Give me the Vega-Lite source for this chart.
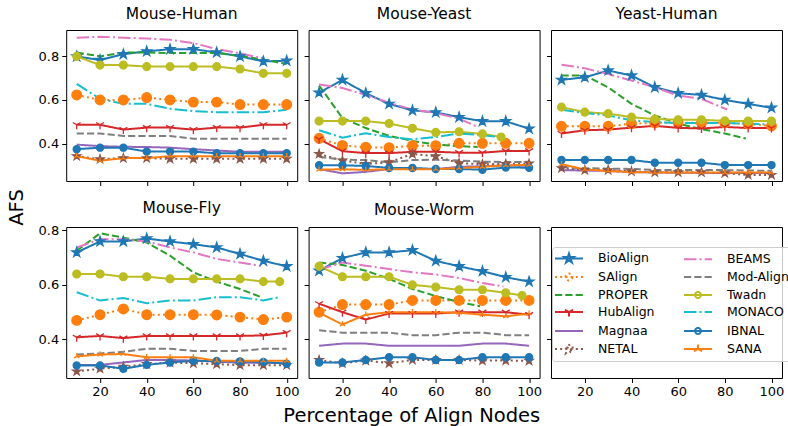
{
"$schema": "https://vega.github.io/schema/vega-lite/v6.json",
"background": "white",
"padding": {"left": 6.2, "top": 6, "right": 0, "bottom": 0},
"config": {
  "font": "DejaVu Sans",
  "view": {"stroke": "#000", "strokeWidth": 1},
  "axis": {"domain": false, "grid": false, "ticks": true, "tickSize": 4.5, "tickColor": "#000", "tickWidth": 1, "labelColor": "#000", "labelFontSize": 13, "labelPadding": 3, "titleFontSize": 19.5, "titleFontWeight": "normal", "titleColor": "#000"},
  "title": {"fontSize": 15.5, "fontWeight": "normal", "color": "#000", "offset": 8, "baseline": "alphabetic", "frame": "group"}
},
"data": {"values": [
{"p":"MH","a":"BioAlign","x":10,"y":0.80},{"p":"MH","a":"BioAlign","x":20,"y":0.783},{"p":"MH","a":"BioAlign","x":30,"y":0.81},{"p":"MH","a":"BioAlign","x":40,"y":0.823},{"p":"MH","a":"BioAlign","x":50,"y":0.833},{"p":"MH","a":"BioAlign","x":60,"y":0.833},{"p":"MH","a":"BioAlign","x":70,"y":0.818},{"p":"MH","a":"BioAlign","x":80,"y":0.80},{"p":"MH","a":"BioAlign","x":90,"y":0.777},{"p":"MH","a":"BioAlign","x":100,"y":0.78},
{"p":"MH","a":"SAlign","x":10,"y":0.623},{"p":"MH","a":"SAlign","x":20,"y":0.60},{"p":"MH","a":"SAlign","x":30,"y":0.60},{"p":"MH","a":"SAlign","x":40,"y":0.611},{"p":"MH","a":"SAlign","x":50,"y":0.60},{"p":"MH","a":"SAlign","x":60,"y":0.59},{"p":"MH","a":"SAlign","x":70,"y":0.59},{"p":"MH","a":"SAlign","x":80,"y":0.579},{"p":"MH","a":"SAlign","x":90,"y":0.579},{"p":"MH","a":"SAlign","x":100,"y":0.579},
{"p":"MH","a":"PROPER","x":10,"y":0.818},{"p":"MH","a":"PROPER","x":20,"y":0.80},{"p":"MH","a":"PROPER","x":30,"y":0.818},{"p":"MH","a":"PROPER","x":40,"y":0.818},{"p":"MH","a":"PROPER","x":50,"y":0.815},{"p":"MH","a":"PROPER","x":60,"y":0.815},{"p":"MH","a":"PROPER","x":70,"y":0.815},{"p":"MH","a":"PROPER","x":80,"y":0.803},{"p":"MH","a":"PROPER","x":90,"y":0.785},{"p":"MH","a":"PROPER","x":100,"y":0.765},
{"p":"MH","a":"HubAlign","x":10,"y":0.486},{"p":"MH","a":"HubAlign","x":20,"y":0.486},{"p":"MH","a":"HubAlign","x":30,"y":0.464},{"p":"MH","a":"HubAlign","x":40,"y":0.473},{"p":"MH","a":"HubAlign","x":50,"y":0.473},{"p":"MH","a":"HubAlign","x":60,"y":0.464},{"p":"MH","a":"HubAlign","x":70,"y":0.473},{"p":"MH","a":"HubAlign","x":80,"y":0.473},{"p":"MH","a":"HubAlign","x":90,"y":0.486},{"p":"MH","a":"HubAlign","x":100,"y":0.486},
{"p":"MH","a":"Magnaa","x":10,"y":0.395},{"p":"MH","a":"Magnaa","x":20,"y":0.388},{"p":"MH","a":"Magnaa","x":30,"y":0.385},{"p":"MH","a":"Magnaa","x":40,"y":0.384},{"p":"MH","a":"Magnaa","x":50,"y":0.381},{"p":"MH","a":"Magnaa","x":60,"y":0.374},{"p":"MH","a":"Magnaa","x":70,"y":0.368},{"p":"MH","a":"Magnaa","x":80,"y":0.362},{"p":"MH","a":"Magnaa","x":90,"y":0.362},{"p":"MH","a":"Magnaa","x":100,"y":0.362},
{"p":"MH","a":"NETAL","x":10,"y":0.342},{"p":"MH","a":"NETAL","x":20,"y":0.328},{"p":"MH","a":"NETAL","x":30,"y":0.333},{"p":"MH","a":"NETAL","x":40,"y":0.333},{"p":"MH","a":"NETAL","x":50,"y":0.33},{"p":"MH","a":"NETAL","x":60,"y":0.33},{"p":"MH","a":"NETAL","x":70,"y":0.33},{"p":"MH","a":"NETAL","x":80,"y":0.33},{"p":"MH","a":"NETAL","x":90,"y":0.33},{"p":"MH","a":"NETAL","x":100,"y":0.33},
{"p":"MH","a":"BEAMS","x":10,"y":0.885},{"p":"MH","a":"BEAMS","x":20,"y":0.89},{"p":"MH","a":"BEAMS","x":30,"y":0.886},{"p":"MH","a":"BEAMS","x":40,"y":0.882},{"p":"MH","a":"BEAMS","x":50,"y":0.876},{"p":"MH","a":"BEAMS","x":60,"y":0.861},{"p":"MH","a":"BEAMS","x":70,"y":0.833},{"p":"MH","a":"BEAMS","x":80,"y":0.814},{"p":"MH","a":"BEAMS","x":90,"y":0.79},
{"p":"MH","a":"Mod-Align","x":10,"y":0.446},{"p":"MH","a":"Mod-Align","x":20,"y":0.446},{"p":"MH","a":"Mod-Align","x":30,"y":0.435},{"p":"MH","a":"Mod-Align","x":40,"y":0.435},{"p":"MH","a":"Mod-Align","x":50,"y":0.435},{"p":"MH","a":"Mod-Align","x":60,"y":0.422},{"p":"MH","a":"Mod-Align","x":70,"y":0.422},{"p":"MH","a":"Mod-Align","x":80,"y":0.422},{"p":"MH","a":"Mod-Align","x":90,"y":0.422},{"p":"MH","a":"Mod-Align","x":100,"y":0.422},
{"p":"MH","a":"Twadn","x":10,"y":0.80},{"p":"MH","a":"Twadn","x":20,"y":0.76},{"p":"MH","a":"Twadn","x":30,"y":0.76},{"p":"MH","a":"Twadn","x":40,"y":0.753},{"p":"MH","a":"Twadn","x":50,"y":0.753},{"p":"MH","a":"Twadn","x":60,"y":0.753},{"p":"MH","a":"Twadn","x":70,"y":0.753},{"p":"MH","a":"Twadn","x":80,"y":0.742},{"p":"MH","a":"Twadn","x":90,"y":0.722},{"p":"MH","a":"Twadn","x":100,"y":0.722},
{"p":"MH","a":"MONACO","x":10,"y":0.674},{"p":"MH","a":"MONACO","x":20,"y":0.605},{"p":"MH","a":"MONACO","x":30,"y":0.582},{"p":"MH","a":"MONACO","x":40,"y":0.582},{"p":"MH","a":"MONACO","x":50,"y":0.56},{"p":"MH","a":"MONACO","x":60,"y":0.549},{"p":"MH","a":"MONACO","x":70,"y":0.544},{"p":"MH","a":"MONACO","x":80,"y":0.544},{"p":"MH","a":"MONACO","x":90,"y":0.544},{"p":"MH","a":"MONACO","x":100,"y":0.555},
{"p":"MH","a":"IBNAL","x":10,"y":0.374},{"p":"MH","a":"IBNAL","x":20,"y":0.381},{"p":"MH","a":"IBNAL","x":30,"y":0.381},{"p":"MH","a":"IBNAL","x":40,"y":0.363},{"p":"MH","a":"IBNAL","x":50,"y":0.363},{"p":"MH","a":"IBNAL","x":60,"y":0.363},{"p":"MH","a":"IBNAL","x":70,"y":0.355},{"p":"MH","a":"IBNAL","x":80,"y":0.355},{"p":"MH","a":"IBNAL","x":90,"y":0.355},{"p":"MH","a":"IBNAL","x":100,"y":0.355},
{"p":"MH","a":"SANA","x":10,"y":0.342},{"p":"MH","a":"SANA","x":20,"y":0.321},{"p":"MH","a":"SANA","x":30,"y":0.333},{"p":"MH","a":"SANA","x":40,"y":0.333},{"p":"MH","a":"SANA","x":50,"y":0.342},{"p":"MH","a":"SANA","x":60,"y":0.342},{"p":"MH","a":"SANA","x":70,"y":0.342},{"p":"MH","a":"SANA","x":80,"y":0.342},{"p":"MH","a":"SANA","x":90,"y":0.342},{"p":"MH","a":"SANA","x":100,"y":0.342},

{"p":"MY","a":"BioAlign","x":10,"y":0.633},{"p":"MY","a":"BioAlign","x":20,"y":0.692},{"p":"MY","a":"BioAlign","x":30,"y":0.631},{"p":"MY","a":"BioAlign","x":40,"y":0.582},{"p":"MY","a":"BioAlign","x":50,"y":0.552},{"p":"MY","a":"BioAlign","x":60,"y":0.543},{"p":"MY","a":"BioAlign","x":70,"y":0.521},{"p":"MY","a":"BioAlign","x":80,"y":0.502},{"p":"MY","a":"BioAlign","x":90,"y":0.502},{"p":"MY","a":"BioAlign","x":100,"y":0.468},
{"p":"MY","a":"SAlign","x":10,"y":0.424},{"p":"MY","a":"SAlign","x":20,"y":0.391},{"p":"MY","a":"SAlign","x":30,"y":0.383},{"p":"MY","a":"SAlign","x":40,"y":0.381},{"p":"MY","a":"SAlign","x":50,"y":0.39},{"p":"MY","a":"SAlign","x":60,"y":0.39},{"p":"MY","a":"SAlign","x":70,"y":0.401},{"p":"MY","a":"SAlign","x":80,"y":0.401},{"p":"MY","a":"SAlign","x":90,"y":0.401},{"p":"MY","a":"SAlign","x":100,"y":0.401},
{"p":"MY","a":"PROPER","x":10,"y":0.666},{"p":"MY","a":"PROPER","x":20,"y":0.517},{"p":"MY","a":"PROPER","x":30,"y":0.471},{"p":"MY","a":"PROPER","x":40,"y":0.435},{"p":"MY","a":"PROPER","x":50,"y":0.412},{"p":"MY","a":"PROPER","x":60,"y":0.395},{"p":"MY","a":"PROPER","x":70,"y":0.388},{"p":"MY","a":"PROPER","x":78,"y":0.384},
{"p":"MY","a":"HubAlign","x":10,"y":0.42},{"p":"MY","a":"HubAlign","x":20,"y":0.365},{"p":"MY","a":"HubAlign","x":30,"y":0.356},{"p":"MY","a":"HubAlign","x":40,"y":0.356},{"p":"MY","a":"HubAlign","x":50,"y":0.362},{"p":"MY","a":"HubAlign","x":60,"y":0.362},{"p":"MY","a":"HubAlign","x":70,"y":0.358},{"p":"MY","a":"HubAlign","x":80,"y":0.358},{"p":"MY","a":"HubAlign","x":90,"y":0.366},{"p":"MY","a":"HubAlign","x":100,"y":0.366},
{"p":"MY","a":"Magnaa","x":10,"y":0.283},{"p":"MY","a":"Magnaa","x":20,"y":0.263},{"p":"MY","a":"Magnaa","x":30,"y":0.27},{"p":"MY","a":"Magnaa","x":40,"y":0.283},{"p":"MY","a":"Magnaa","x":50,"y":0.283},{"p":"MY","a":"Magnaa","x":60,"y":0.283},{"p":"MY","a":"Magnaa","x":70,"y":0.293},{"p":"MY","a":"Magnaa","x":80,"y":0.296},{"p":"MY","a":"Magnaa","x":90,"y":0.30},{"p":"MY","a":"Magnaa","x":100,"y":0.297},
{"p":"MY","a":"NETAL","x":10,"y":0.352},{"p":"MY","a":"NETAL","x":20,"y":0.322},{"p":"MY","a":"NETAL","x":30,"y":0.306},{"p":"MY","a":"NETAL","x":40,"y":0.314},{"p":"MY","a":"NETAL","x":50,"y":0.352},{"p":"MY","a":"NETAL","x":60,"y":0.342},{"p":"MY","a":"NETAL","x":70,"y":0.31},{"p":"MY","a":"NETAL","x":80,"y":0.305},{"p":"MY","a":"NETAL","x":90,"y":0.306},{"p":"MY","a":"NETAL","x":100,"y":0.308},
{"p":"MY","a":"BEAMS","x":10,"y":0.671},{"p":"MY","a":"BEAMS","x":20,"y":0.655},{"p":"MY","a":"BEAMS","x":30,"y":0.623},{"p":"MY","a":"BEAMS","x":40,"y":0.587},{"p":"MY","a":"BEAMS","x":50,"y":0.556},{"p":"MY","a":"BEAMS","x":60,"y":0.54},{"p":"MY","a":"BEAMS","x":70,"y":0.514},{"p":"MY","a":"BEAMS","x":78,"y":0.476},
{"p":"MY","a":"Mod-Align","x":10,"y":0.339},{"p":"MY","a":"Mod-Align","x":20,"y":0.326},{"p":"MY","a":"Mod-Align","x":30,"y":0.324},{"p":"MY","a":"Mod-Align","x":40,"y":0.314},{"p":"MY","a":"Mod-Align","x":50,"y":0.324},{"p":"MY","a":"Mod-Align","x":60,"y":0.326},{"p":"MY","a":"Mod-Align","x":70,"y":0.322},{"p":"MY","a":"Mod-Align","x":80,"y":0.317},{"p":"MY","a":"Mod-Align","x":90,"y":0.315},{"p":"MY","a":"Mod-Align","x":100,"y":0.316},
{"p":"MY","a":"Twadn","x":10,"y":0.503},{"p":"MY","a":"Twadn","x":20,"y":0.503},{"p":"MY","a":"Twadn","x":30,"y":0.503},{"p":"MY","a":"Twadn","x":40,"y":0.492},{"p":"MY","a":"Twadn","x":50,"y":0.47},{"p":"MY","a":"Twadn","x":60,"y":0.451},{"p":"MY","a":"Twadn","x":70,"y":0.454},{"p":"MY","a":"Twadn","x":80,"y":0.444},{"p":"MY","a":"Twadn","x":88,"y":0.43},
{"p":"MY","a":"MONACO","x":10,"y":0.461},{"p":"MY","a":"MONACO","x":20,"y":0.427},{"p":"MY","a":"MONACO","x":30,"y":0.447},{"p":"MY","a":"MONACO","x":40,"y":0.43},{"p":"MY","a":"MONACO","x":50,"y":0.419},{"p":"MY","a":"MONACO","x":60,"y":0.43},{"p":"MY","a":"MONACO","x":70,"y":0.446},{"p":"MY","a":"MONACO","x":80,"y":0.438},{"p":"MY","a":"MONACO","x":88,"y":0.43},
{"p":"MY","a":"IBNAL","x":10,"y":0.30},{"p":"MY","a":"IBNAL","x":20,"y":0.30},{"p":"MY","a":"IBNAL","x":30,"y":0.297},{"p":"MY","a":"IBNAL","x":40,"y":0.288},{"p":"MY","a":"IBNAL","x":50,"y":0.288},{"p":"MY","a":"IBNAL","x":60,"y":0.283},{"p":"MY","a":"IBNAL","x":70,"y":0.283},{"p":"MY","a":"IBNAL","x":80,"y":0.28},{"p":"MY","a":"IBNAL","x":90,"y":0.29},{"p":"MY","a":"IBNAL","x":100,"y":0.289},
{"p":"MY","a":"SANA","x":10,"y":0.28},{"p":"MY","a":"SANA","x":20,"y":0.282},{"p":"MY","a":"SANA","x":30,"y":0.279},{"p":"MY","a":"SANA","x":40,"y":0.282},{"p":"MY","a":"SANA","x":50,"y":0.282},{"p":"MY","a":"SANA","x":60,"y":0.282},{"p":"MY","a":"SANA","x":70,"y":0.287},{"p":"MY","a":"SANA","x":80,"y":0.293},{"p":"MY","a":"SANA","x":90,"y":0.30},{"p":"MY","a":"SANA","x":100,"y":0.302},

{"p":"YH","a":"BioAlign","x":10,"y":0.692},{"p":"YH","a":"BioAlign","x":20,"y":0.704},{"p":"YH","a":"BioAlign","x":30,"y":0.735},{"p":"YH","a":"BioAlign","x":40,"y":0.712},{"p":"YH","a":"BioAlign","x":50,"y":0.658},{"p":"YH","a":"BioAlign","x":60,"y":0.631},{"p":"YH","a":"BioAlign","x":70,"y":0.623},{"p":"YH","a":"BioAlign","x":80,"y":0.60},{"p":"YH","a":"BioAlign","x":90,"y":0.582},{"p":"YH","a":"BioAlign","x":100,"y":0.564},
{"p":"YH","a":"SAlign","x":10,"y":0.479},{"p":"YH","a":"SAlign","x":20,"y":0.479},{"p":"YH","a":"SAlign","x":30,"y":0.479},{"p":"YH","a":"SAlign","x":40,"y":0.491},{"p":"YH","a":"SAlign","x":50,"y":0.495},{"p":"YH","a":"SAlign","x":60,"y":0.496},{"p":"YH","a":"SAlign","x":70,"y":0.495},{"p":"YH","a":"SAlign","x":80,"y":0.495},{"p":"YH","a":"SAlign","x":90,"y":0.49},{"p":"YH","a":"SAlign","x":100,"y":0.481},
{"p":"YH","a":"PROPER","x":10,"y":0.712},{"p":"YH","a":"PROPER","x":20,"y":0.712},{"p":"YH","a":"PROPER","x":30,"y":0.658},{"p":"YH","a":"PROPER","x":40,"y":0.582},{"p":"YH","a":"PROPER","x":50,"y":0.529},{"p":"YH","a":"PROPER","x":60,"y":0.491},{"p":"YH","a":"PROPER","x":70,"y":0.466},{"p":"YH","a":"PROPER","x":80,"y":0.446},{"p":"YH","a":"PROPER","x":89,"y":0.423},
{"p":"YH","a":"HubAlign","x":10,"y":0.446},{"p":"YH","a":"HubAlign","x":20,"y":0.461},{"p":"YH","a":"HubAlign","x":30,"y":0.464},{"p":"YH","a":"HubAlign","x":40,"y":0.473},{"p":"YH","a":"HubAlign","x":50,"y":0.481},{"p":"YH","a":"HubAlign","x":60,"y":0.472},{"p":"YH","a":"HubAlign","x":70,"y":0.469},{"p":"YH","a":"HubAlign","x":80,"y":0.476},{"p":"YH","a":"HubAlign","x":90,"y":0.471},{"p":"YH","a":"HubAlign","x":100,"y":0.471},
{"p":"YH","a":"Magnaa","x":10,"y":0.278},{"p":"YH","a":"Magnaa","x":20,"y":0.276},{"p":"YH","a":"Magnaa","x":30,"y":0.274},{"p":"YH","a":"Magnaa","x":40,"y":0.269},{"p":"YH","a":"Magnaa","x":50,"y":0.267},{"p":"YH","a":"Magnaa","x":60,"y":0.266},{"p":"YH","a":"Magnaa","x":70,"y":0.265},{"p":"YH","a":"Magnaa","x":80,"y":0.265},{"p":"YH","a":"Magnaa","x":90,"y":0.265},{"p":"YH","a":"Magnaa","x":100,"y":0.265},
{"p":"YH","a":"NETAL","x":10,"y":0.287},{"p":"YH","a":"NETAL","x":20,"y":0.278},{"p":"YH","a":"NETAL","x":30,"y":0.278},{"p":"YH","a":"NETAL","x":40,"y":0.272},{"p":"YH","a":"NETAL","x":50,"y":0.268},{"p":"YH","a":"NETAL","x":60,"y":0.268},{"p":"YH","a":"NETAL","x":70,"y":0.268},{"p":"YH","a":"NETAL","x":80,"y":0.264},{"p":"YH","a":"NETAL","x":90,"y":0.256},{"p":"YH","a":"NETAL","x":100,"y":0.256},
{"p":"YH","a":"BEAMS","x":10,"y":0.762},{"p":"YH","a":"BEAMS","x":20,"y":0.745},{"p":"YH","a":"BEAMS","x":30,"y":0.719},{"p":"YH","a":"BEAMS","x":40,"y":0.689},{"p":"YH","a":"BEAMS","x":50,"y":0.658},{"p":"YH","a":"BEAMS","x":60,"y":0.62},{"p":"YH","a":"BEAMS","x":70,"y":0.605},{"p":"YH","a":"BEAMS","x":81,"y":0.556},
{"p":"YH","a":"Mod-Align","x":10,"y":0.291},{"p":"YH","a":"Mod-Align","x":20,"y":0.287},{"p":"YH","a":"Mod-Align","x":30,"y":0.285},{"p":"YH","a":"Mod-Align","x":40,"y":0.283},{"p":"YH","a":"Mod-Align","x":50,"y":0.279},{"p":"YH","a":"Mod-Align","x":60,"y":0.279},{"p":"YH","a":"Mod-Align","x":70,"y":0.279},{"p":"YH","a":"Mod-Align","x":80,"y":0.278},{"p":"YH","a":"Mod-Align","x":90,"y":0.276},{"p":"YH","a":"Mod-Align","x":100,"y":0.275},
{"p":"YH","a":"Twadn","x":10,"y":0.567},{"p":"YH","a":"Twadn","x":20,"y":0.544},{"p":"YH","a":"Twadn","x":30,"y":0.537},{"p":"YH","a":"Twadn","x":40,"y":0.521},{"p":"YH","a":"Twadn","x":50,"y":0.512},{"p":"YH","a":"Twadn","x":60,"y":0.509},{"p":"YH","a":"Twadn","x":70,"y":0.509},{"p":"YH","a":"Twadn","x":80,"y":0.504},{"p":"YH","a":"Twadn","x":90,"y":0.503},{"p":"YH","a":"Twadn","x":100,"y":0.503},
{"p":"YH","a":"MONACO","x":10,"y":0.555},{"p":"YH","a":"MONACO","x":20,"y":0.54},{"p":"YH","a":"MONACO","x":30,"y":0.529},{"p":"YH","a":"MONACO","x":40,"y":0.506},{"p":"YH","a":"MONACO","x":50,"y":0.499},{"p":"YH","a":"MONACO","x":60,"y":0.494},{"p":"YH","a":"MONACO","x":70,"y":0.494},{"p":"YH","a":"MONACO","x":80,"y":0.494},{"p":"YH","a":"MONACO","x":90,"y":0.491},{"p":"YH","a":"MONACO","x":100,"y":0.487},
{"p":"YH","a":"IBNAL","x":10,"y":0.324},{"p":"YH","a":"IBNAL","x":20,"y":0.324},{"p":"YH","a":"IBNAL","x":30,"y":0.324},{"p":"YH","a":"IBNAL","x":40,"y":0.324},{"p":"YH","a":"IBNAL","x":50,"y":0.312},{"p":"YH","a":"IBNAL","x":60,"y":0.312},{"p":"YH","a":"IBNAL","x":70,"y":0.312},{"p":"YH","a":"IBNAL","x":80,"y":0.301},{"p":"YH","a":"IBNAL","x":90,"y":0.301},{"p":"YH","a":"IBNAL","x":100,"y":0.301},
{"p":"YH","a":"SANA","x":10,"y":0.305},{"p":"YH","a":"SANA","x":20,"y":0.281},{"p":"YH","a":"SANA","x":30,"y":0.274},{"p":"YH","a":"SANA","x":40,"y":0.269},{"p":"YH","a":"SANA","x":50,"y":0.267},{"p":"YH","a":"SANA","x":60,"y":0.267},{"p":"YH","a":"SANA","x":70,"y":0.267},{"p":"YH","a":"SANA","x":80,"y":0.267},{"p":"YH","a":"SANA","x":90,"y":0.267},{"p":"YH","a":"SANA","x":100,"y":0.267},

{"p":"MF","a":"BioAlign","x":10,"y":0.719},{"p":"MF","a":"BioAlign","x":20,"y":0.759},{"p":"MF","a":"BioAlign","x":30,"y":0.759},{"p":"MF","a":"BioAlign","x":40,"y":0.77},{"p":"MF","a":"BioAlign","x":50,"y":0.759},{"p":"MF","a":"BioAlign","x":60,"y":0.749},{"p":"MF","a":"BioAlign","x":70,"y":0.737},{"p":"MF","a":"BioAlign","x":80,"y":0.713},{"p":"MF","a":"BioAlign","x":90,"y":0.688},{"p":"MF","a":"BioAlign","x":100,"y":0.668},
{"p":"MF","a":"SAlign","x":10,"y":0.47},{"p":"MF","a":"SAlign","x":20,"y":0.491},{"p":"MF","a":"SAlign","x":30,"y":0.512},{"p":"MF","a":"SAlign","x":40,"y":0.491},{"p":"MF","a":"SAlign","x":50,"y":0.491},{"p":"MF","a":"SAlign","x":60,"y":0.491},{"p":"MF","a":"SAlign","x":70,"y":0.49},{"p":"MF","a":"SAlign","x":80,"y":0.482},{"p":"MF","a":"SAlign","x":90,"y":0.473},{"p":"MF","a":"SAlign","x":100,"y":0.482},
{"p":"MF","a":"PROPER","x":10,"y":0.725},{"p":"MF","a":"PROPER","x":20,"y":0.789},{"p":"MF","a":"PROPER","x":30,"y":0.773},{"p":"MF","a":"PROPER","x":40,"y":0.755},{"p":"MF","a":"PROPER","x":50,"y":0.707},{"p":"MF","a":"PROPER","x":60,"y":0.646},{"p":"MF","a":"PROPER","x":70,"y":0.612},{"p":"MF","a":"PROPER","x":80,"y":0.585},{"p":"MF","a":"PROPER","x":89,"y":0.555},
{"p":"MF","a":"HubAlign","x":10,"y":0.408},{"p":"MF","a":"HubAlign","x":20,"y":0.413},{"p":"MF","a":"HubAlign","x":30,"y":0.405},{"p":"MF","a":"HubAlign","x":40,"y":0.413},{"p":"MF","a":"HubAlign","x":50,"y":0.413},{"p":"MF","a":"HubAlign","x":60,"y":0.413},{"p":"MF","a":"HubAlign","x":70,"y":0.413},{"p":"MF","a":"HubAlign","x":80,"y":0.413},{"p":"MF","a":"HubAlign","x":90,"y":0.415},{"p":"MF","a":"HubAlign","x":100,"y":0.425},
{"p":"MF","a":"Magnaa","x":10,"y":0.307},{"p":"MF","a":"Magnaa","x":20,"y":0.307},{"p":"MF","a":"Magnaa","x":30,"y":0.316},{"p":"MF","a":"Magnaa","x":40,"y":0.325},{"p":"MF","a":"Magnaa","x":50,"y":0.325},{"p":"MF","a":"Magnaa","x":60,"y":0.323},{"p":"MF","a":"Magnaa","x":70,"y":0.319},{"p":"MF","a":"Magnaa","x":80,"y":0.315},{"p":"MF","a":"Magnaa","x":90,"y":0.315},{"p":"MF","a":"Magnaa","x":100,"y":0.313},
{"p":"MF","a":"NETAL","x":10,"y":0.283},{"p":"MF","a":"NETAL","x":20,"y":0.293},{"p":"MF","a":"NETAL","x":30,"y":0.30},{"p":"MF","a":"NETAL","x":40,"y":0.31},{"p":"MF","a":"NETAL","x":50,"y":0.315},{"p":"MF","a":"NETAL","x":60,"y":0.313},{"p":"MF","a":"NETAL","x":70,"y":0.31},{"p":"MF","a":"NETAL","x":80,"y":0.306},{"p":"MF","a":"NETAL","x":90,"y":0.306},{"p":"MF","a":"NETAL","x":100,"y":0.306},
{"p":"MF","a":"BEAMS","x":10,"y":0.737},{"p":"MF","a":"BEAMS","x":20,"y":0.767},{"p":"MF","a":"BEAMS","x":30,"y":0.767},{"p":"MF","a":"BEAMS","x":40,"y":0.759},{"p":"MF","a":"BEAMS","x":50,"y":0.737},{"p":"MF","a":"BEAMS","x":60,"y":0.719},{"p":"MF","a":"BEAMS","x":70,"y":0.695},{"p":"MF","a":"BEAMS","x":80,"y":0.682},{"p":"MF","a":"BEAMS","x":89,"y":0.67},
{"p":"MF","a":"Mod-Align","x":10,"y":0.345},{"p":"MF","a":"Mod-Align","x":20,"y":0.349},{"p":"MF","a":"Mod-Align","x":30,"y":0.355},{"p":"MF","a":"Mod-Align","x":40,"y":0.366},{"p":"MF","a":"Mod-Align","x":50,"y":0.366},{"p":"MF","a":"Mod-Align","x":60,"y":0.358},{"p":"MF","a":"Mod-Align","x":70,"y":0.358},{"p":"MF","a":"Mod-Align","x":80,"y":0.358},{"p":"MF","a":"Mod-Align","x":90,"y":0.366},{"p":"MF","a":"Mod-Align","x":100,"y":0.366},
{"p":"MF","a":"Twadn","x":10,"y":0.64},{"p":"MF","a":"Twadn","x":20,"y":0.64},{"p":"MF","a":"Twadn","x":30,"y":0.63},{"p":"MF","a":"Twadn","x":40,"y":0.63},{"p":"MF","a":"Twadn","x":50,"y":0.622},{"p":"MF","a":"Twadn","x":60,"y":0.622},{"p":"MF","a":"Twadn","x":70,"y":0.622},{"p":"MF","a":"Twadn","x":80,"y":0.622},{"p":"MF","a":"Twadn","x":90,"y":0.612},{"p":"MF","a":"Twadn","x":97,"y":0.612},
{"p":"MF","a":"MONACO","x":10,"y":0.573},{"p":"MF","a":"MONACO","x":20,"y":0.543},{"p":"MF","a":"MONACO","x":30,"y":0.552},{"p":"MF","a":"MONACO","x":40,"y":0.533},{"p":"MF","a":"MONACO","x":50,"y":0.543},{"p":"MF","a":"MONACO","x":60,"y":0.543},{"p":"MF","a":"MONACO","x":70,"y":0.555},{"p":"MF","a":"MONACO","x":80,"y":0.555},{"p":"MF","a":"MONACO","x":90,"y":0.543},{"p":"MF","a":"MONACO","x":97,"y":0.555},
{"p":"MF","a":"IBNAL","x":10,"y":0.305},{"p":"MF","a":"IBNAL","x":20,"y":0.305},{"p":"MF","a":"IBNAL","x":30,"y":0.293},{"p":"MF","a":"IBNAL","x":40,"y":0.307},{"p":"MF","a":"IBNAL","x":50,"y":0.316},{"p":"MF","a":"IBNAL","x":60,"y":0.322},{"p":"MF","a":"IBNAL","x":70,"y":0.321},{"p":"MF","a":"IBNAL","x":80,"y":0.32},{"p":"MF","a":"IBNAL","x":90,"y":0.318},{"p":"MF","a":"IBNAL","x":100,"y":0.311},
{"p":"MF","a":"SANA","x":10,"y":0.338},{"p":"MF","a":"SANA","x":20,"y":0.345},{"p":"MF","a":"SANA","x":30,"y":0.347},{"p":"MF","a":"SANA","x":40,"y":0.335},{"p":"MF","a":"SANA","x":50,"y":0.335},{"p":"MF","a":"SANA","x":60,"y":0.335},{"p":"MF","a":"SANA","x":70,"y":0.322},{"p":"MF","a":"SANA","x":80,"y":0.322},{"p":"MF","a":"SANA","x":90,"y":0.322},{"p":"MF","a":"SANA","x":100,"y":0.322},

{"p":"MW","a":"BioAlign","x":10,"y":0.652},{"p":"MW","a":"BioAlign","x":20,"y":0.698},{"p":"MW","a":"BioAlign","x":30,"y":0.719},{"p":"MW","a":"BioAlign","x":40,"y":0.719},{"p":"MW","a":"BioAlign","x":50,"y":0.727},{"p":"MW","a":"BioAlign","x":60,"y":0.688},{"p":"MW","a":"BioAlign","x":70,"y":0.668},{"p":"MW","a":"BioAlign","x":80,"y":0.65},{"p":"MW","a":"BioAlign","x":90,"y":0.628},{"p":"MW","a":"BioAlign","x":100,"y":0.612},
{"p":"MW","a":"SAlign","x":10,"y":0.50},{"p":"MW","a":"SAlign","x":20,"y":0.528},{"p":"MW","a":"SAlign","x":30,"y":0.528},{"p":"MW","a":"SAlign","x":40,"y":0.528},{"p":"MW","a":"SAlign","x":50,"y":0.543},{"p":"MW","a":"SAlign","x":60,"y":0.543},{"p":"MW","a":"SAlign","x":70,"y":0.543},{"p":"MW","a":"SAlign","x":80,"y":0.543},{"p":"MW","a":"SAlign","x":90,"y":0.543},{"p":"MW","a":"SAlign","x":100,"y":0.543},
{"p":"MW","a":"PROPER","x":10,"y":0.682},{"p":"MW","a":"PROPER","x":20,"y":0.673},{"p":"MW","a":"PROPER","x":30,"y":0.652},{"p":"MW","a":"PROPER","x":40,"y":0.622},{"p":"MW","a":"PROPER","x":50,"y":0.585},{"p":"MW","a":"PROPER","x":60,"y":0.559},{"p":"MW","a":"PROPER","x":70,"y":0.537},{"p":"MW","a":"PROPER","x":79,"y":0.522},
{"p":"MW","a":"HubAlign","x":10,"y":0.531},{"p":"MW","a":"HubAlign","x":20,"y":0.50},{"p":"MW","a":"HubAlign","x":30,"y":0.473},{"p":"MW","a":"HubAlign","x":40,"y":0.495},{"p":"MW","a":"HubAlign","x":50,"y":0.495},{"p":"MW","a":"HubAlign","x":60,"y":0.495},{"p":"MW","a":"HubAlign","x":70,"y":0.50},{"p":"MW","a":"HubAlign","x":80,"y":0.50},{"p":"MW","a":"HubAlign","x":90,"y":0.50},{"p":"MW","a":"HubAlign","x":100,"y":0.491},
{"p":"MW","a":"Magnaa","x":10,"y":0.377},{"p":"MW","a":"Magnaa","x":20,"y":0.385},{"p":"MW","a":"Magnaa","x":30,"y":0.385},{"p":"MW","a":"Magnaa","x":40,"y":0.377},{"p":"MW","a":"Magnaa","x":50,"y":0.377},{"p":"MW","a":"Magnaa","x":60,"y":0.377},{"p":"MW","a":"Magnaa","x":70,"y":0.377},{"p":"MW","a":"Magnaa","x":80,"y":0.385},{"p":"MW","a":"Magnaa","x":90,"y":0.385},{"p":"MW","a":"Magnaa","x":100,"y":0.377},
{"p":"MW","a":"NETAL","x":10,"y":0.325},{"p":"MW","a":"NETAL","x":20,"y":0.313},{"p":"MW","a":"NETAL","x":30,"y":0.323},{"p":"MW","a":"NETAL","x":40,"y":0.313},{"p":"MW","a":"NETAL","x":50,"y":0.325},{"p":"MW","a":"NETAL","x":60,"y":0.325},{"p":"MW","a":"NETAL","x":70,"y":0.325},{"p":"MW","a":"NETAL","x":80,"y":0.323},{"p":"MW","a":"NETAL","x":90,"y":0.323},{"p":"MW","a":"NETAL","x":100,"y":0.322},
{"p":"MW","a":"BEAMS","x":10,"y":0.656},{"p":"MW","a":"BEAMS","x":20,"y":0.682},{"p":"MW","a":"BEAMS","x":30,"y":0.67},{"p":"MW","a":"BEAMS","x":40,"y":0.658},{"p":"MW","a":"BEAMS","x":50,"y":0.646},{"p":"MW","a":"BEAMS","x":60,"y":0.638},{"p":"MW","a":"BEAMS","x":70,"y":0.625},{"p":"MW","a":"BEAMS","x":80,"y":0.607},{"p":"MW","a":"BEAMS","x":89,"y":0.594},
{"p":"MW","a":"Mod-Align","x":10,"y":0.434},{"p":"MW","a":"Mod-Align","x":20,"y":0.425},{"p":"MW","a":"Mod-Align","x":30,"y":0.425},{"p":"MW","a":"Mod-Align","x":40,"y":0.425},{"p":"MW","a":"Mod-Align","x":50,"y":0.416},{"p":"MW","a":"Mod-Align","x":60,"y":0.416},{"p":"MW","a":"Mod-Align","x":70,"y":0.425},{"p":"MW","a":"Mod-Align","x":80,"y":0.425},{"p":"MW","a":"Mod-Align","x":90,"y":0.416},{"p":"MW","a":"Mod-Align","x":100,"y":0.416},
{"p":"MW","a":"Twadn","x":10,"y":0.668},{"p":"MW","a":"Twadn","x":20,"y":0.63},{"p":"MW","a":"Twadn","x":30,"y":0.63},{"p":"MW","a":"Twadn","x":40,"y":0.63},{"p":"MW","a":"Twadn","x":50,"y":0.60},{"p":"MW","a":"Twadn","x":60,"y":0.592},{"p":"MW","a":"Twadn","x":70,"y":0.582},{"p":"MW","a":"Twadn","x":80,"y":0.582},{"p":"MW","a":"Twadn","x":90,"y":0.571},{"p":"MW","a":"Twadn","x":97,"y":0.561},
{"p":"MW","a":"IBNAL","x":10,"y":0.316},{"p":"MW","a":"IBNAL","x":20,"y":0.316},{"p":"MW","a":"IBNAL","x":30,"y":0.325},{"p":"MW","a":"IBNAL","x":40,"y":0.335},{"p":"MW","a":"IBNAL","x":50,"y":0.335},{"p":"MW","a":"IBNAL","x":60,"y":0.325},{"p":"MW","a":"IBNAL","x":70,"y":0.325},{"p":"MW","a":"IBNAL","x":80,"y":0.335},{"p":"MW","a":"IBNAL","x":90,"y":0.335},{"p":"MW","a":"IBNAL","x":100,"y":0.335},
{"p":"MW","a":"SANA","x":10,"y":0.498},{"p":"MW","a":"SANA","x":20,"y":0.455},{"p":"MW","a":"SANA","x":30,"y":0.491},{"p":"MW","a":"SANA","x":40,"y":0.50},{"p":"MW","a":"SANA","x":50,"y":0.50},{"p":"MW","a":"SANA","x":60,"y":0.50},{"p":"MW","a":"SANA","x":70,"y":0.498},{"p":"MW","a":"SANA","x":80,"y":0.491},{"p":"MW","a":"SANA","x":90,"y":0.485},{"p":"MW","a":"SANA","x":100,"y":0.495}
]},
"columns": 3,
"spacing": {"row": 46, "column": 11.4},
"bounds": "flush",
"resolve": {"scale": {"stroke": "independent", "fill": "independent", "shape": "independent", "strokeDash": "independent", "size": "independent"}},
"concat": [
{
 "title": {"text": "Mouse-Human", "frame": "group"}, "width": 231, "height": 151,
 "transform": [{"filter": "datum.p == 'MH'"}],
 "encoding": {
  "x": {"field": "x", "type": "quantitative", "scale": {"domain": [5.5, 104.5], "nice": false, "zero": false}, "axis": {"values": [20,40,60,80,100], "labels": false, "title": null}},
  "y": {"field": "y", "type": "quantitative", "scale": {"domain": [0.228, 0.921], "nice": false, "zero": false}, "axis": {"values": [0.4,0.6,0.8], "format": ".1f", "title": "AFS", "titleAngle": 270, "titleBaseline": "alphabetic", "titleAlign": "center", "titleX": -43.5, "titleY": 177}}
 },
 "layer": [
  {"mark": {"type": "line", "strokeWidth": 2, "clip": true},
   "encoding": {
    "stroke": {"field": "a", "type": "nominal", "legend": null, "scale": {"domain": ["BioAlign","SAlign","PROPER","HubAlign","Magnaa","NETAL","BEAMS","Mod-Align","Twadn","MONACO","IBNAL","SANA"], "range": ["#1f77b4","#ff7f0e","#2ca02c","#d62728","#9467bd","#8c564b","#e377c2","#7f7f7f","#bcbd22","#17becf","#1f77b4","#ff7f0e"]}},
    "strokeDash": {"field": "a", "type": "nominal", "legend": null, "scale": {"domain": ["BioAlign","SAlign","PROPER","HubAlign","Magnaa","NETAL","BEAMS","Mod-Align","Twadn","MONACO","IBNAL","SANA"], "range": [[1,0],[2,3.2],[7.2,3.1],[1,0],[1,0],[2,3.2],[12.5,3.1,2,3.1],[7.2,3.1],[1,0],[12.5,3.1,2,3.1],[1,0],[1,0]]}}
   }},
  {"transform": [{"filter": {"field": "a", "oneOf": ["BioAlign","SAlign","HubAlign","NETAL","Twadn","IBNAL","SANA"]}}],
   "mark": {"type": "point", "filled": true, "opacity": 1, "strokeWidth": 1.3, "clip": true},
   "encoding": {
    "shape": {"field": "a", "type": "nominal", "legend": null, "scale": {"domain": ["BioAlign","SAlign","HubAlign","NETAL","Twadn","IBNAL","SANA"], "range": ["M0,-1L0.2245,-0.309L0.9511,-0.309L0.3633,0.118L0.5878,0.809L0,0.382L-0.5878,0.809L-0.3633,0.118L-0.9511,-0.309L-0.2245,-0.309Z","circle","M0,0L0,1M0,0L-0.866,-0.5M0,0L0.866,-0.5","M0,-1L0.2245,-0.309L0.9511,-0.309L0.3633,0.118L0.5878,0.809L0,0.382L-0.5878,0.809L-0.3633,0.118L-0.9511,-0.309L-0.2245,-0.309Z","circle","circle","M0,0L0,-1M0,0L-0.866,0.5M0,0L0.866,0.5"]}},
    "size": {"field": "a", "type": "nominal", "legend": null, "scale": {"domain": ["BioAlign","SAlign","HubAlign","NETAL","Twadn","IBNAL","SANA"], "range": [104,40,85,104,28,28,85]}},
    "fill": {"field": "a", "type": "nominal", "legend": null, "scale": {"domain": ["BioAlign","SAlign","HubAlign","NETAL","Twadn","IBNAL","SANA"], "range": ["#1f77b4","#ff7f0e","#d62728","#8c564b","#bcbd22","#1f77b4","#ff7f0e"]}},
    "stroke": {"field": "a", "type": "nominal", "legend": null, "scale": {"domain": ["BioAlign","SAlign","PROPER","HubAlign","Magnaa","NETAL","BEAMS","Mod-Align","Twadn","MONACO","IBNAL","SANA"], "range": ["#1f77b4","#ff7f0e","#2ca02c","#d62728","#9467bd","#8c564b","#e377c2","#7f7f7f","#bcbd22","#17becf","#1f77b4","#ff7f0e"]}}
   }}
 ]
},
{
 "title": {"text": "Mouse-Yeast", "frame": "group"}, "width": 231, "height": 151,
 "transform": [{"filter": "datum.p == 'MY'"}],
 "encoding": {
  "x": {"field": "x", "type": "quantitative", "scale": {"domain": [5.5, 104.5], "nice": false, "zero": false}, "axis": {"values": [20,40,60,80,100], "labels": false, "title": null}},
  "y": {"field": "y", "type": "quantitative", "scale": {"domain": [0.228, 0.921], "nice": false, "zero": false}, "axis": {"values": [0.4,0.6,0.8], "labels": false, "title": null}}
 },
 "layer": [
  {"mark": {"type": "line", "strokeWidth": 2, "clip": true},
   "encoding": {
    "stroke": {"field": "a", "type": "nominal", "legend": null, "scale": {"domain": ["BioAlign","SAlign","PROPER","HubAlign","Magnaa","NETAL","BEAMS","Mod-Align","Twadn","MONACO","IBNAL","SANA"], "range": ["#1f77b4","#ff7f0e","#2ca02c","#d62728","#9467bd","#8c564b","#e377c2","#7f7f7f","#bcbd22","#17becf","#1f77b4","#ff7f0e"]}},
    "strokeDash": {"field": "a", "type": "nominal", "legend": null, "scale": {"domain": ["BioAlign","SAlign","PROPER","HubAlign","Magnaa","NETAL","BEAMS","Mod-Align","Twadn","MONACO","IBNAL","SANA"], "range": [[1,0],[2,3.2],[7.2,3.1],[1,0],[1,0],[2,3.2],[12.5,3.1,2,3.1],[7.2,3.1],[1,0],[12.5,3.1,2,3.1],[1,0],[1,0]]}}
   }},
  {"transform": [{"filter": {"field": "a", "oneOf": ["BioAlign","SAlign","HubAlign","NETAL","Twadn","IBNAL","SANA"]}}],
   "mark": {"type": "point", "filled": true, "opacity": 1, "strokeWidth": 1.3, "clip": true},
   "encoding": {
    "shape": {"field": "a", "type": "nominal", "legend": null, "scale": {"domain": ["BioAlign","SAlign","HubAlign","NETAL","Twadn","IBNAL","SANA"], "range": ["M0,-1L0.2245,-0.309L0.9511,-0.309L0.3633,0.118L0.5878,0.809L0,0.382L-0.5878,0.809L-0.3633,0.118L-0.9511,-0.309L-0.2245,-0.309Z","circle","M0,0L0,1M0,0L-0.866,-0.5M0,0L0.866,-0.5","M0,-1L0.2245,-0.309L0.9511,-0.309L0.3633,0.118L0.5878,0.809L0,0.382L-0.5878,0.809L-0.3633,0.118L-0.9511,-0.309L-0.2245,-0.309Z","circle","circle","M0,0L0,-1M0,0L-0.866,0.5M0,0L0.866,0.5"]}},
    "size": {"field": "a", "type": "nominal", "legend": null, "scale": {"domain": ["BioAlign","SAlign","HubAlign","NETAL","Twadn","IBNAL","SANA"], "range": [104,40,85,104,28,28,85]}},
    "fill": {"field": "a", "type": "nominal", "legend": null, "scale": {"domain": ["BioAlign","SAlign","HubAlign","NETAL","Twadn","IBNAL","SANA"], "range": ["#1f77b4","#ff7f0e","#d62728","#8c564b","#bcbd22","#1f77b4","#ff7f0e"]}},
    "stroke": {"field": "a", "type": "nominal", "legend": null, "scale": {"domain": ["BioAlign","SAlign","PROPER","HubAlign","Magnaa","NETAL","BEAMS","Mod-Align","Twadn","MONACO","IBNAL","SANA"], "range": ["#1f77b4","#ff7f0e","#2ca02c","#d62728","#9467bd","#8c564b","#e377c2","#7f7f7f","#bcbd22","#17becf","#1f77b4","#ff7f0e"]}}
   }}
 ]
},
{
 "title": {"text": "Yeast-Human", "frame": "group"}, "width": 231, "height": 151,
 "transform": [{"filter": "datum.p == 'YH'"}],
 "encoding": {
  "x": {"field": "x", "type": "quantitative", "scale": {"domain": [5.5, 104.5], "nice": false, "zero": false}, "axis": {"values": [20,40,60,80,100], "labels": false, "title": null}},
  "y": {"field": "y", "type": "quantitative", "scale": {"domain": [0.228, 0.921], "nice": false, "zero": false}, "axis": {"values": [0.4,0.6,0.8], "labels": false, "title": null}}
 },
 "layer": [
  {"mark": {"type": "line", "strokeWidth": 2, "clip": true},
   "encoding": {
    "stroke": {"field": "a", "type": "nominal", "legend": null, "scale": {"domain": ["BioAlign","SAlign","PROPER","HubAlign","Magnaa","NETAL","BEAMS","Mod-Align","Twadn","MONACO","IBNAL","SANA"], "range": ["#1f77b4","#ff7f0e","#2ca02c","#d62728","#9467bd","#8c564b","#e377c2","#7f7f7f","#bcbd22","#17becf","#1f77b4","#ff7f0e"]}},
    "strokeDash": {"field": "a", "type": "nominal", "legend": null, "scale": {"domain": ["BioAlign","SAlign","PROPER","HubAlign","Magnaa","NETAL","BEAMS","Mod-Align","Twadn","MONACO","IBNAL","SANA"], "range": [[1,0],[2,3.2],[7.2,3.1],[1,0],[1,0],[2,3.2],[12.5,3.1,2,3.1],[7.2,3.1],[1,0],[12.5,3.1,2,3.1],[1,0],[1,0]]}}
   }},
  {"transform": [{"filter": {"field": "a", "oneOf": ["BioAlign","SAlign","HubAlign","NETAL","Twadn","IBNAL","SANA"]}}],
   "mark": {"type": "point", "filled": true, "opacity": 1, "strokeWidth": 1.3, "clip": true},
   "encoding": {
    "shape": {"field": "a", "type": "nominal", "legend": null, "scale": {"domain": ["BioAlign","SAlign","HubAlign","NETAL","Twadn","IBNAL","SANA"], "range": ["M0,-1L0.2245,-0.309L0.9511,-0.309L0.3633,0.118L0.5878,0.809L0,0.382L-0.5878,0.809L-0.3633,0.118L-0.9511,-0.309L-0.2245,-0.309Z","circle","M0,0L0,1M0,0L-0.866,-0.5M0,0L0.866,-0.5","M0,-1L0.2245,-0.309L0.9511,-0.309L0.3633,0.118L0.5878,0.809L0,0.382L-0.5878,0.809L-0.3633,0.118L-0.9511,-0.309L-0.2245,-0.309Z","circle","circle","M0,0L0,-1M0,0L-0.866,0.5M0,0L0.866,0.5"]}},
    "size": {"field": "a", "type": "nominal", "legend": null, "scale": {"domain": ["BioAlign","SAlign","HubAlign","NETAL","Twadn","IBNAL","SANA"], "range": [104,40,85,104,28,28,85]}},
    "fill": {"field": "a", "type": "nominal", "legend": null, "scale": {"domain": ["BioAlign","SAlign","HubAlign","NETAL","Twadn","IBNAL","SANA"], "range": ["#1f77b4","#ff7f0e","#d62728","#8c564b","#bcbd22","#1f77b4","#ff7f0e"]}},
    "stroke": {"field": "a", "type": "nominal", "legend": null, "scale": {"domain": ["BioAlign","SAlign","PROPER","HubAlign","Magnaa","NETAL","BEAMS","Mod-Align","Twadn","MONACO","IBNAL","SANA"], "range": ["#1f77b4","#ff7f0e","#2ca02c","#d62728","#9467bd","#8c564b","#e377c2","#7f7f7f","#bcbd22","#17becf","#1f77b4","#ff7f0e"]}}
   }}
 ]
},
{
 "title": {"text": "Mouse-Fly", "frame": "group"}, "width": 231, "height": 151,
 "transform": [{"filter": "datum.p == 'MF'"}],
 "encoding": {
  "x": {"field": "x", "type": "quantitative", "scale": {"domain": [5.5, 104.5], "nice": false, "zero": false}, "axis": {"values": [20,40,60,80,100], "title": null}},
  "y": {"field": "y", "type": "quantitative", "scale": {"domain": [0.259, 0.812], "nice": false, "zero": false}, "axis": {"values": [0.4,0.6,0.8], "format": ".1f", "title": null}}
 },
 "layer": [
  {"mark": {"type": "line", "strokeWidth": 2, "clip": true},
   "encoding": {
    "stroke": {"field": "a", "type": "nominal", "legend": null, "scale": {"domain": ["BioAlign","SAlign","PROPER","HubAlign","Magnaa","NETAL","BEAMS","Mod-Align","Twadn","MONACO","IBNAL","SANA"], "range": ["#1f77b4","#ff7f0e","#2ca02c","#d62728","#9467bd","#8c564b","#e377c2","#7f7f7f","#bcbd22","#17becf","#1f77b4","#ff7f0e"]}},
    "strokeDash": {"field": "a", "type": "nominal", "legend": null, "scale": {"domain": ["BioAlign","SAlign","PROPER","HubAlign","Magnaa","NETAL","BEAMS","Mod-Align","Twadn","MONACO","IBNAL","SANA"], "range": [[1,0],[2,3.2],[7.2,3.1],[1,0],[1,0],[2,3.2],[12.5,3.1,2,3.1],[7.2,3.1],[1,0],[12.5,3.1,2,3.1],[1,0],[1,0]]}}
   }},
  {"transform": [{"filter": {"field": "a", "oneOf": ["BioAlign","SAlign","HubAlign","NETAL","Twadn","IBNAL","SANA"]}}],
   "mark": {"type": "point", "filled": true, "opacity": 1, "strokeWidth": 1.3, "clip": true},
   "encoding": {
    "shape": {"field": "a", "type": "nominal", "legend": null, "scale": {"domain": ["BioAlign","SAlign","HubAlign","NETAL","Twadn","IBNAL","SANA"], "range": ["M0,-1L0.2245,-0.309L0.9511,-0.309L0.3633,0.118L0.5878,0.809L0,0.382L-0.5878,0.809L-0.3633,0.118L-0.9511,-0.309L-0.2245,-0.309Z","circle","M0,0L0,1M0,0L-0.866,-0.5M0,0L0.866,-0.5","M0,-1L0.2245,-0.309L0.9511,-0.309L0.3633,0.118L0.5878,0.809L0,0.382L-0.5878,0.809L-0.3633,0.118L-0.9511,-0.309L-0.2245,-0.309Z","circle","circle","M0,0L0,-1M0,0L-0.866,0.5M0,0L0.866,0.5"]}},
    "size": {"field": "a", "type": "nominal", "legend": null, "scale": {"domain": ["BioAlign","SAlign","HubAlign","NETAL","Twadn","IBNAL","SANA"], "range": [104,40,85,104,28,28,85]}},
    "fill": {"field": "a", "type": "nominal", "legend": null, "scale": {"domain": ["BioAlign","SAlign","HubAlign","NETAL","Twadn","IBNAL","SANA"], "range": ["#1f77b4","#ff7f0e","#d62728","#8c564b","#bcbd22","#1f77b4","#ff7f0e"]}},
    "stroke": {"field": "a", "type": "nominal", "legend": null, "scale": {"domain": ["BioAlign","SAlign","PROPER","HubAlign","Magnaa","NETAL","BEAMS","Mod-Align","Twadn","MONACO","IBNAL","SANA"], "range": ["#1f77b4","#ff7f0e","#2ca02c","#d62728","#9467bd","#8c564b","#e377c2","#7f7f7f","#bcbd22","#17becf","#1f77b4","#ff7f0e"]}}
   }}
 ]
},
{
 "title": {"text": "Mouse-Worm", "frame": "group"}, "width": 231, "height": 151,
 "transform": [{"filter": "datum.p == 'MW'"}],
 "encoding": {
  "x": {"field": "x", "type": "quantitative", "scale": {"domain": [5.5, 104.5], "nice": false, "zero": false}, "axis": {"values": [20,40,60,80,100], "title": "Percentage of Align Nodes", "titleX": 102.7, "titleY": 44, "titleBaseline": "alphabetic", "titleAlign": "center"}},
  "y": {"field": "y", "type": "quantitative", "scale": {"domain": [0.259, 0.812], "nice": false, "zero": false}, "axis": {"values": [0.4,0.6,0.8], "labels": false, "title": null}}
 },
 "layer": [
  {"mark": {"type": "line", "strokeWidth": 2, "clip": true},
   "encoding": {
    "stroke": {"field": "a", "type": "nominal", "legend": null, "scale": {"domain": ["BioAlign","SAlign","PROPER","HubAlign","Magnaa","NETAL","BEAMS","Mod-Align","Twadn","MONACO","IBNAL","SANA"], "range": ["#1f77b4","#ff7f0e","#2ca02c","#d62728","#9467bd","#8c564b","#e377c2","#7f7f7f","#bcbd22","#17becf","#1f77b4","#ff7f0e"]}},
    "strokeDash": {"field": "a", "type": "nominal", "legend": null, "scale": {"domain": ["BioAlign","SAlign","PROPER","HubAlign","Magnaa","NETAL","BEAMS","Mod-Align","Twadn","MONACO","IBNAL","SANA"], "range": [[1,0],[2,3.2],[7.2,3.1],[1,0],[1,0],[2,3.2],[12.5,3.1,2,3.1],[7.2,3.1],[1,0],[12.5,3.1,2,3.1],[1,0],[1,0]]}}
   }},
  {"transform": [{"filter": {"field": "a", "oneOf": ["BioAlign","SAlign","HubAlign","NETAL","Twadn","IBNAL","SANA"]}}],
   "mark": {"type": "point", "filled": true, "opacity": 1, "strokeWidth": 1.3, "clip": true},
   "encoding": {
    "shape": {"field": "a", "type": "nominal", "legend": null, "scale": {"domain": ["BioAlign","SAlign","HubAlign","NETAL","Twadn","IBNAL","SANA"], "range": ["M0,-1L0.2245,-0.309L0.9511,-0.309L0.3633,0.118L0.5878,0.809L0,0.382L-0.5878,0.809L-0.3633,0.118L-0.9511,-0.309L-0.2245,-0.309Z","circle","M0,0L0,1M0,0L-0.866,-0.5M0,0L0.866,-0.5","M0,-1L0.2245,-0.309L0.9511,-0.309L0.3633,0.118L0.5878,0.809L0,0.382L-0.5878,0.809L-0.3633,0.118L-0.9511,-0.309L-0.2245,-0.309Z","circle","circle","M0,0L0,-1M0,0L-0.866,0.5M0,0L0.866,0.5"]}},
    "size": {"field": "a", "type": "nominal", "legend": null, "scale": {"domain": ["BioAlign","SAlign","HubAlign","NETAL","Twadn","IBNAL","SANA"], "range": [104,40,85,104,28,28,85]}},
    "fill": {"field": "a", "type": "nominal", "legend": null, "scale": {"domain": ["BioAlign","SAlign","HubAlign","NETAL","Twadn","IBNAL","SANA"], "range": ["#1f77b4","#ff7f0e","#d62728","#8c564b","#bcbd22","#1f77b4","#ff7f0e"]}},
    "stroke": {"field": "a", "type": "nominal", "legend": null, "scale": {"domain": ["BioAlign","SAlign","PROPER","HubAlign","Magnaa","NETAL","BEAMS","Mod-Align","Twadn","MONACO","IBNAL","SANA"], "range": ["#1f77b4","#ff7f0e","#2ca02c","#d62728","#9467bd","#8c564b","#e377c2","#7f7f7f","#bcbd22","#17becf","#1f77b4","#ff7f0e"]}}
   }}
 ]
},
{
 "width": 231, "height": 151,
 "transform": [{"filter": "datum.p == 'MW'"}],
 "mark": {"type": "point", "filled": true, "opacity": 0},
 "encoding": {
  "x": {"field": "x", "type": "quantitative", "scale": {"domain": [5.5, 104.5], "nice": false, "zero": false}, "axis": {"values": [20,40,60,80,100], "title": null}},
  "y": {"field": "y", "type": "quantitative", "scale": {"domain": [0.259, 0.812], "nice": false, "zero": false}, "axis": {"values": [0.4,0.6,0.8], "labels": false, "title": null}},
  "fill": {"field": "a", "type": "nominal", "scale": {"domain": ["BioAlign","SAlign","PROPER","HubAlign","Magnaa","NETAL","BEAMS","Mod-Align","Twadn","MONACO","IBNAL","SANA"], "range": ["#1f77b4","#ff7f0e","#2ca02c","#d62728","#9467bd","#8c564b","#e377c2","#7f7f7f","#bcbd22","#17becf","#1f77b4","#ff7f0e"]},
    "legend": {"title": null, "orient": "none", "legendX": 1, "legendY": 20, "columns": 2, "symbolSize": 196, "symbolStrokeWidth": 2, "symbolOffset": 6, "labelFontSize": 12.5, "labelColor": "#000", "labelOffset": 21, "columnPadding": 25, "rowPadding": 2, "padding": 3, "strokeColor": "#cccccc", "fillColor": "rgba(255,255,255,0.8)", "cornerRadius": 3}},
  "stroke": {"field": "a", "type": "nominal", "scale": {"domain": ["BioAlign","SAlign","PROPER","HubAlign","Magnaa","NETAL","BEAMS","Mod-Align","Twadn","MONACO","IBNAL","SANA"], "range": ["#1f77b4","#ff7f0e","#2ca02c","#d62728","#9467bd","#8c564b","#e377c2","#7f7f7f","#bcbd22","#17becf","#1f77b4","#ff7f0e"]},
    "legend": {"title": null, "orient": "none", "legendX": 1, "legendY": 20, "columns": 2, "symbolSize": 196, "symbolStrokeWidth": 2, "symbolOffset": 6, "labelFontSize": 12.5, "labelColor": "#000", "labelOffset": 21, "columnPadding": 25, "rowPadding": 2, "padding": 3, "strokeColor": "#cccccc", "fillColor": "rgba(255,255,255,0.8)", "cornerRadius": 3}},
  "strokeDash": {"field": "a", "type": "nominal", "scale": {"domain": ["BioAlign","SAlign","PROPER","HubAlign","Magnaa","NETAL","BEAMS","Mod-Align","Twadn","MONACO","IBNAL","SANA"], "range": [[1,0],[2,3.2],[7.2,3.1],[1,0],[1,0],[2,3.2],[12.5,3.1,2,3.1],[7.2,3.1],[1,0],[12.5,3.1,2,3.1],[1,0],[1,0]]},
    "legend": {"title": null, "orient": "none", "legendX": 1, "legendY": 20, "columns": 2, "symbolSize": 196, "symbolStrokeWidth": 2, "symbolOffset": 6, "labelFontSize": 12.5, "labelColor": "#000", "labelOffset": 21, "columnPadding": 25, "rowPadding": 2, "padding": 3, "strokeColor": "#cccccc", "fillColor": "rgba(255,255,255,0.8)", "cornerRadius": 3}},
  "shape": {"field": "a", "type": "nominal", "scale": {"domain": ["BioAlign","SAlign","PROPER","HubAlign","Magnaa","NETAL","BEAMS","Mod-Align","Twadn","MONACO","IBNAL","SANA"], "range": [
     "M-2,0H2M0,-0.714L0.1603,-0.2206L0.679,-0.2207L0.2594,0.0843L0.4197,0.5776L0,0.2727L-0.4197,0.5776L-0.2594,0.0843L-0.679,-0.2207L-0.1603,-0.2206Z",
     "M-2,0H2M0.5,0A0.5,0.5,0,1,1,-0.5,0A0.5,0.5,0,1,1,0.5,0Z",
     "M-2,0H2",
     "M-2,0H2M0,0V0.66M0,0L-0.572,-0.33M0,0L0.572,-0.33",
     "M-2,0H2",
     "M-2,0H2M0,-0.714L0.1603,-0.2206L0.679,-0.2207L0.2594,0.0843L0.4197,0.5776L0,0.2727L-0.4197,0.5776L-0.2594,0.0843L-0.679,-0.2207L-0.1603,-0.2206Z",
     "M-2,0H2",
     "M-2,0H2",
     "M-2,0H2M0.42,0A0.42,0.42,0,1,1,-0.42,0A0.42,0.42,0,1,1,0.42,0Z",
     "M-2,0H2",
     "M-2,0H2M0.42,0A0.42,0.42,0,1,1,-0.42,0A0.42,0.42,0,1,1,0.42,0Z",
     "M-2,0H2M0,0V-0.66M0,0L-0.572,0.33M0,0L0.572,0.33"]},
    "legend": {"title": null, "orient": "none", "legendX": 1, "legendY": 20, "columns": 2, "symbolSize": 196, "symbolStrokeWidth": 2, "symbolOffset": 6, "labelFontSize": 12.5, "labelColor": "#000", "labelOffset": 21, "columnPadding": 25, "rowPadding": 2, "padding": 3, "strokeColor": "#cccccc", "fillColor": "rgba(255,255,255,0.8)", "cornerRadius": 3}}
 }
}
]
}
